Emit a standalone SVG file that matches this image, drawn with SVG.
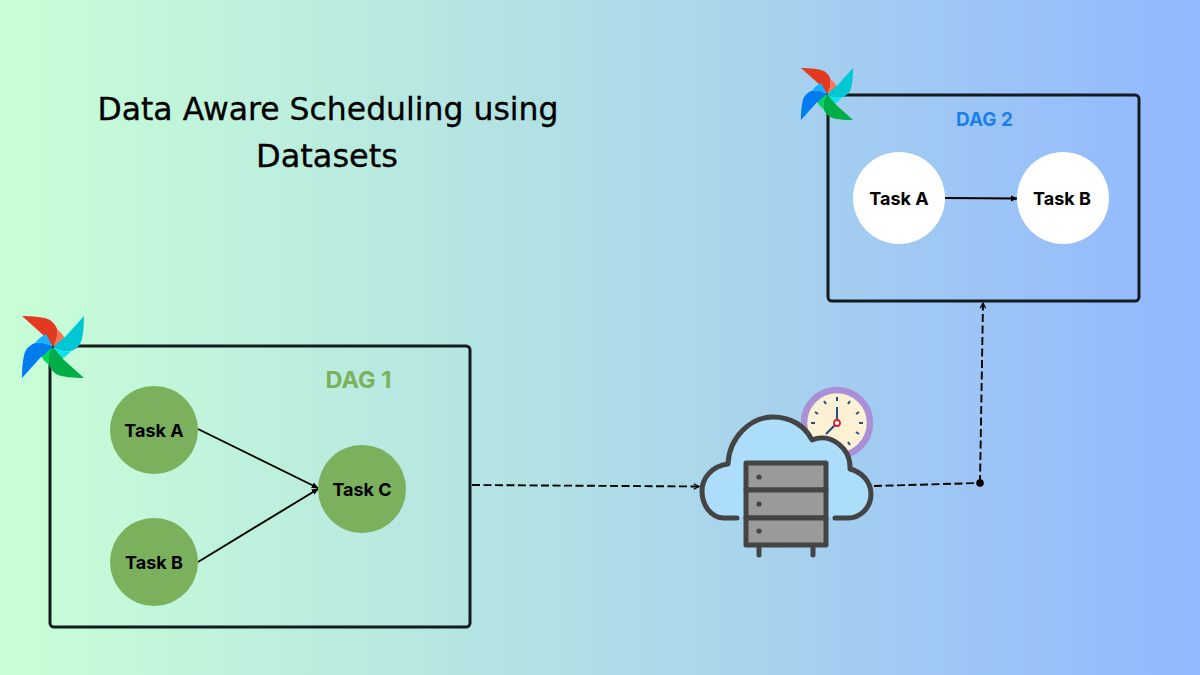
<svg xmlns="http://www.w3.org/2000/svg" width="1200" height="675" viewBox="0 0 1200 675">
<style>
.title{font-family:"Comic Sans MS","DejaVu Sans",sans-serif;font-size:32px;fill:#000;stroke:#000;stroke-width:.35;text-anchor:middle}
.task{font-family:Inter,"Noto Sans",sans-serif;font-size:18px;font-weight:700;fill:#000;text-anchor:middle}
.dag{font-family:Inter,"Noto Sans",sans-serif;font-weight:700;text-anchor:middle}
.box{fill:none;stroke:#151a1e;stroke-width:3}
.edge{fill:none;stroke:#000;stroke-width:1.9}
.dash{fill:none;stroke:#000;stroke-width:1.9;stroke-dasharray:8 3.5}
.green{fill:#7bb05c}
.white{fill:#fff}
.ln{fill:none;stroke:#444;stroke-width:5;stroke-linecap:round;stroke-linejoin:round}
.srv{fill:#9a9a9a;stroke:#444;stroke-width:5;stroke-linejoin:round}
.tick{stroke:#1f4f7a;stroke-width:2;fill:none}
</style>
<defs>
<linearGradient id="bg" x1="0" y1="0" x2="1" y2="0">
<stop offset="0" stop-color="#c9ffd6"/>
<stop offset="0.5" stop-color="#afdde6"/>
<stop offset="1" stop-color="#91b7ff"/>
</linearGradient>
<marker id="arr" viewBox="0 0 8 8" refX="7" refY="4" markerWidth="7" markerHeight="7" markerUnits="userSpaceOnUse" orient="auto"><path d="M0 0.5L8 4L0 7.5Z" fill="#000"/></marker>
<marker id="open" viewBox="0 0 8 8" refX="7" refY="4" markerWidth="7" markerHeight="7" markerUnits="userSpaceOnUse" orient="auto"><path d="M1 0.8L7 4L1 7.200" fill="none" stroke="#000" stroke-width="1.400"/></marker>
<path id="blade" d="M0 0L-11 -13L-31 -31C-21 -31 -8 -30 -3 -27C1 -24 3 -21 4 -18C5 -10 3 -5 0 0Z"/>
<path id="lite" d="M0 0C3 -5 5 -11 4 -18C8 -15 11 -11 13 -7Z"/>
<g id="wheel">
<use href="#blade" fill="#e43921"/>
<use href="#lite" fill="#ff7557"/>
<use href="#blade" fill="#00c7d4" transform="rotate(90)"/>
<use href="#lite" fill="#11e1ee" transform="rotate(90)"/>
<use href="#blade" fill="#00ad46" transform="rotate(180)"/>
<use href="#lite" fill="#04d659" transform="rotate(180)"/>
<use href="#blade" fill="#017cee" transform="rotate(270)"/>
<use href="#lite" fill="#1ab0ff" transform="rotate(270)"/>
<circle r="1" fill="#123"/>
</g>
</defs>
<rect width="1200" height="675" fill="url(#bg)"/>
<g id="title">
<text class="title" x="328" y="120" textLength="461" lengthAdjust="spacingAndGlyphs">Data Aware Scheduling using</text>
<text class="title" x="327" y="167" textLength="142" lengthAdjust="spacingAndGlyphs">Datasets</text>
</g>
<g id="connectors">
<path class="edge" d="M198 429L318 488" marker-end="url(#arr)"/>
<path class="edge" d="M198 562L318 489" marker-end="url(#arr)"/>
<path class="edge" d="M943 198L1017 198.500" marker-end="url(#arr)"/>
<path class="dash" d="M472 485L699 486.500" marker-end="url(#open)"/>
<path class="dash" d="M874 486L980 483"/>
<path class="dash" d="M980 483L983 303" marker-end="url(#open)"/>
<circle cx="980" cy="483" r="3.800" fill="#000"/>
</g>
<g id="dag1">
<rect class="box" x="50" y="346" width="420" height="281" rx="4"/>
<text class="dag" x="358.500" y="388" fill="#7bb05c" style="font-size:23.500px">DAG 1</text>
<use href="#wheel" x="53" y="347"/>
</g>
<g id="dag2">
<rect class="box" x="828" y="95" width="311" height="206" rx="4"/>
<text class="dag" x="984.500" y="125.700" fill="#1a7fe8" style="font-size:19px">DAG 2</text>
<use href="#wheel" transform="translate(827 94) scale(.84)"/>
</g>
<g id="d1-task-a"><circle class="green" cx="154" cy="430" r="44"/><text class="task" x="154" y="437">Task A</text></g>
<g id="d1-task-b"><circle class="green" cx="154" cy="562" r="44"/><text class="task" x="154" y="569">Task B</text></g>
<g id="d1-task-c"><circle class="green" cx="362" cy="489" r="44"/><text class="task" x="362" y="496">Task C</text></g>
<g id="d2-task-a"><circle class="white" cx="899" cy="198" r="46"/><text class="task" x="899" y="205">Task A</text></g>
<g id="d2-task-b"><circle class="white" cx="1063" cy="198" r="46"/><text class="task" x="1062" y="205">Task B</text></g>
<g id="server">
<circle cx="837" cy="423" r="33" fill="#fcf1d4" stroke="#a98fd6" stroke-width="6.500"/>
<path class="tick" d="M837 397V401M811 423H815M859 423H863M824 401L826 404M850 401L848 404M815 412L818 414M859 412L856 414M859 434L856 432M850 445L848 442"/>
<path class="tick" d="M837 423V407M837 423L826 434"/>
<circle cx="837" cy="423" r="3" fill="#fff" stroke="#d81f30" stroke-width="1.800"/>
<path id="cloud-fill" d="M737 518H724C711 518 702 505 702 491C702 478 712 466 728 464C729 438 750 417 773 417C791 417 805 426 812 440C830 432 851 448 850 469C862 472 871 482 871 494C871 508 860 518 848 518H835Z" fill="#acdefb"/>
<path class="ln" d="M737 518H724C711 518 702 505 702 491C702 478 712 466 728 464C729 438 750 417 773 417C791 417 805 426 812 440C830 432 851 448 850 469C862 472 871 482 871 494C871 508 860 518 848 518H835"/>
<rect class="srv" x="746" y="463" width="80" height="27"/>
<rect class="srv" x="746" y="490" width="80" height="28"/>
<rect class="srv" x="746" y="518" width="80" height="27"/>
<circle cx="759" cy="477" r="2.600" fill="#444"/><circle cx="759" cy="504" r="2.600" fill="#444"/><circle cx="759" cy="531" r="2.600" fill="#444"/>
<path class="ln" d="M759 548V555M813 548V555"/>
</g>
</svg>
